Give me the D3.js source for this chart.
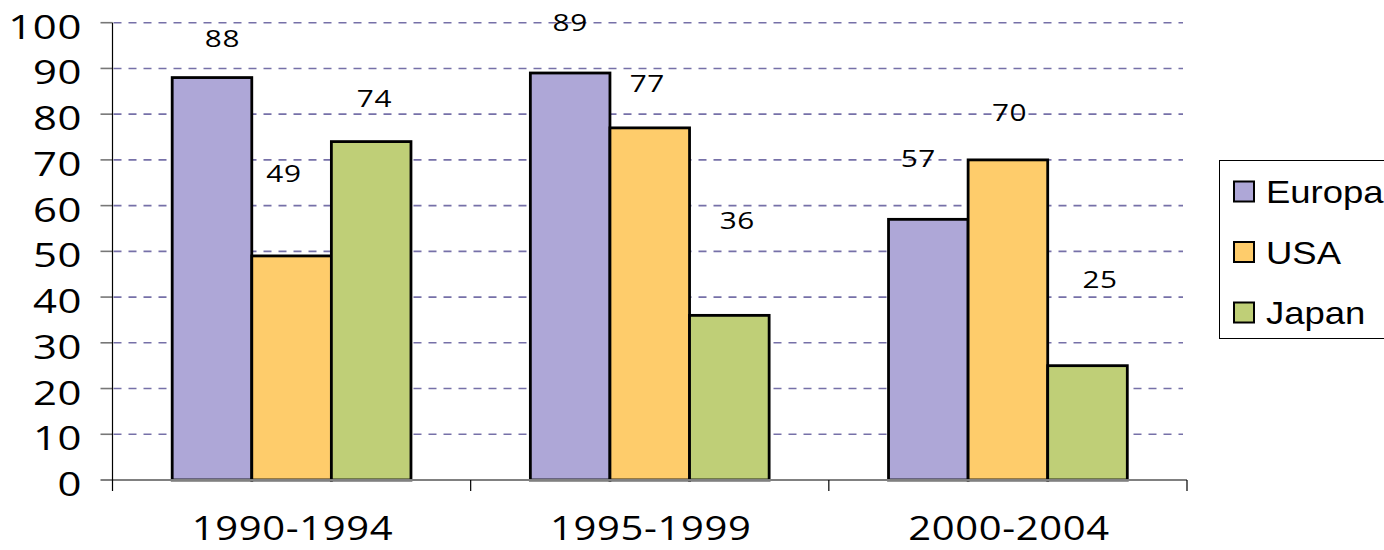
<!DOCTYPE html>
<html>
<head>
<meta charset="utf-8">
<script src="https://cdn.jsdelivr.net/npm/d3@7/dist/d3.min.js"></script>
<style>
  html, body { margin: 0; padding: 0; background: #fff; overflow: hidden; }
  svg { display: block; }
</style>
</head>
<body>
<svg id="chart" width="1384" height="550"></svg>
<script>
// ---- data ----
const categories = ["1990-1994", "1995-1999", "2000-2004"];
const seriesNames = ["Europa", "USA", "Japan"];
const europa = [88, 89, 57];
const usa = [49, 77, 70];
const japan = [74, 36, 25];
const yTicks = [0, 10, 20, 30, 40, 50, 60, 70, 80, 90, 100];

// label placement (lift above bar in value units, sideways nudge in px)
const europaLabelLift = [8.5, 11, 13.3];
const usaLabelLift = [18.1, 9.7, 10.3];
const japanLabelLift = [9.4, 20.8, 18.8];
const europaLabelNudge = [10.5, 0, -10];
const usaLabelNudge = [-7.6, -2.5, 1.7];
const japanLabelNudge = [3.2, 8, 12.6];

const colors = { Europa: "#AEA7D7", USA: "#FECC6B", Japan: "#BFCF77" };

const seriesValues = { Europa: europa, USA: usa, Japan: japan };
const seriesLift = { Europa: europaLabelLift, USA: usaLabelLift, Japan: japanLabelLift };
const seriesNudge = { Europa: europaLabelNudge, USA: usaLabelNudge, Japan: japanLabelNudge };

const rows = [];
categories.forEach((c, i) => {
  seriesNames.forEach(s => {
    rows.push({ cat: c, series: s, value: seriesValues[s][i], lift: seriesLift[s][i], nudge: seriesNudge[s][i] });
  });
});

// ---- layout ----
const svg = d3.select("#chart");
const pLeft = 112.5, pRight = 1187, pTop = 22.7, pBottom = 480;
const FONT = "'Open Sans', 'Noto Sans', sans-serif";
const STRETCH = 1.25;

const x0 = d3.scaleBand().domain(categories).range([pLeft, pRight]).padding(0);
const x1 = d3.scaleBand().domain(seriesNames).range([0, x0.bandwidth()]).paddingInner(0).paddingOuter(0.75);
const y = d3.scaleLinear().domain([0, 100]).range([pBottom, pTop]);

// gridlines
svg.append("g").selectAll("line")
  .data(yTicks.filter(t => t > 0))
  .join("line")
  .attr("x1", pLeft + 1).attr("x2", pRight - 4)
  .attr("y1", d => y(d)).attr("y2", d => y(d))
  .attr("stroke", "#7670a8")
  .attr("stroke-width", 1.6)
  .attr("stroke-dasharray", "8,7");

// y axis tick marks (gray)
svg.append("g").selectAll("line")
  .data(yTicks.filter(t => t > 0))
  .join("line")
  .attr("x1", pLeft - 12).attr("x2", pLeft)
  .attr("y1", d => y(d)).attr("y2", d => y(d))
  .attr("stroke", "#777").attr("stroke-width", 1.6);

// bars
svg.append("g").selectAll("rect")
  .data(rows)
  .join("rect")
  .attr("x", d => x0(d.cat) + x1(d.series))
  .attr("y", d => y(d.value))
  .attr("width", x1.bandwidth())
  .attr("height", d => y(0) - y(d.value))
  .attr("fill", d => colors[d.series])
  .attr("stroke", "#000")
  .attr("stroke-width", 2.8);

// zero line
svg.append("line")
  .attr("x1", pLeft - 12).attr("x2", pRight)
  .attr("y1", y(0)).attr("y2", y(0))
  .attr("stroke", "#808080").attr("stroke-width", 2);

// y axis line
svg.append("line")
  .attr("x1", pLeft).attr("x2", pLeft)
  .attr("y1", pTop).attr("y2", pBottom + 11)
  .attr("stroke", "#000").attr("stroke-width", 1.2);

// category separator ticks
const sepPositions = categories.map(c => x0(c) + x0.bandwidth());
svg.append("g").selectAll("line")
  .data(sepPositions)
  .join("line")
  .attr("x1", d => d).attr("x2", d => d)
  .attr("y1", pBottom).attr("y2", pBottom + 11)
  .attr("stroke", "#000").attr("stroke-width", 1.2);

// y tick labels
svg.append("g").selectAll("text")
  .data(yTicks)
  .join("text")
  .attr("transform", d => `translate(82,${y(d) + 16}) scale(${STRETCH},1)`)
  .attr("text-anchor", "end")
  .attr("font-family", FONT)
  .attr("font-size", 33.5)
  .attr("letter-spacing", 0.5)
  .attr("fill", "#000")
  .text(d => d);

// category labels
svg.append("g").selectAll("text")
  .data(categories)
  .join("text")
  .attr("transform", d => `translate(${x0(d) + x0.bandwidth() / 2 + 1},540) scale(${STRETCH},1)`)
  .attr("text-anchor", "middle")
  .attr("font-family", FONT)
  .attr("font-size", 32)
  .attr("letter-spacing", 0.5)
  .attr("fill", "#000")
  .text(d => d);

// data labels
svg.append("g").selectAll("text")
  .data(rows)
  .join("text")
  .attr("transform", d => `translate(${x0(d.cat) + x1(d.series) + x1.bandwidth() / 2 + d.nudge},${y(d.value + d.lift) + 8.5}) scale(${STRETCH},1)`)
  .attr("text-anchor", "middle")
  .attr("font-family", FONT)
  .attr("font-size", 23.8)
  .attr("letter-spacing", 0.5)
  .attr("fill", "#000")
  .text(d => d.value);

// legend
const legend = svg.append("g");
legend.append("rect")
  .attr("x", 1219.5).attr("y", 160.5)
  .attr("width", 200).attr("height", 178)
  .attr("fill", "#fff").attr("stroke", "#000").attr("stroke-width", 1);

const legendScale = d3.scalePoint().domain(seriesNames).range([191.5, 312.5]);
const items = legend.selectAll("g.item")
  .data(seriesNames)
  .join("g")
  .attr("class", "item")
  .attr("transform", d => `translate(0,${legendScale(d)})`);
items.append("rect")
  .attr("x", 1234).attr("y", -10)
  .attr("width", 20).attr("height", 20)
  .attr("fill", d => colors[d])
  .attr("stroke", "#000").attr("stroke-width", 2);
items.append("text")
  .attr("transform", "translate(1266,11.5) scale(1.14,1)")
  .attr("font-family", "'Liberation Sans', Arial, sans-serif")
  .attr("font-size", 32)
  .attr("fill", "#000")
  .text(d => d);
</script>
</body>
</html>
